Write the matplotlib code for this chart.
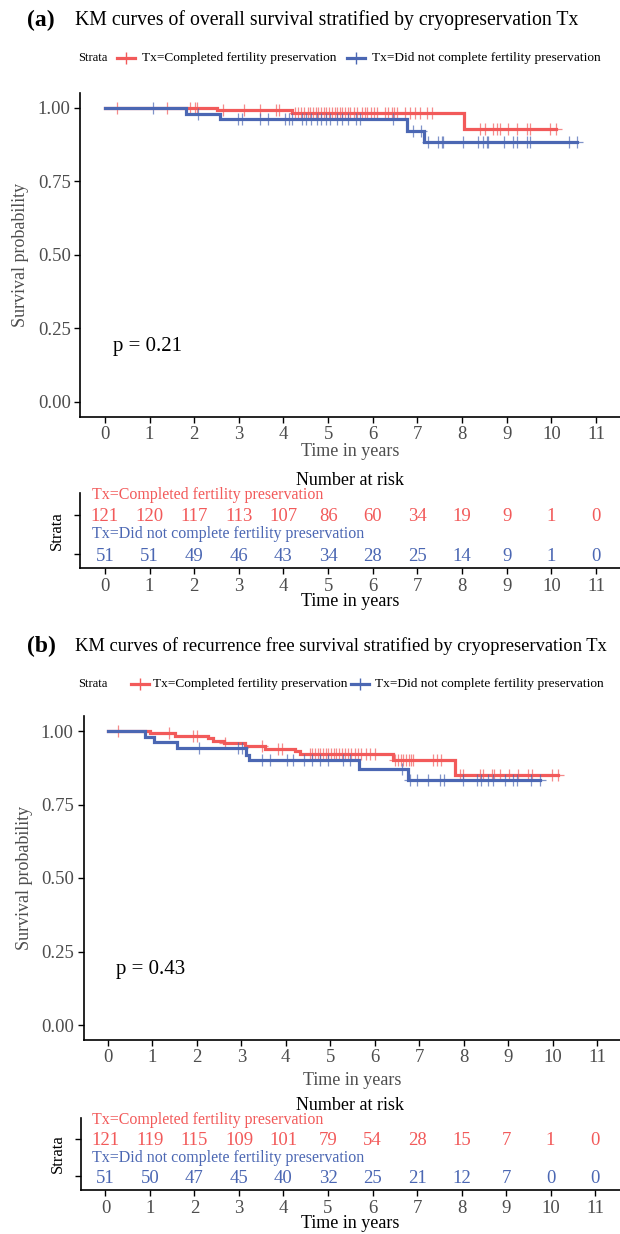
import matplotlib
matplotlib.use("Agg")
import matplotlib.pyplot as plt
import numpy as np
from matplotlib.lines import Line2D

plt.rcParams["font.family"] = ["Liberation Serif", "DejaVu Serif"]

W, H = 620, 1234
RED = "#F25A5A"
BLUE = "#4B67B3"
GREY = "#4D4D4D"

GROUPS = ["Tx=Completed fertility preservation", "Tx=Did not complete fertility preservation"]
TITLES = ["KM curves of overall survival stratified by cryopreservation Tx",
          "KM curves of recurrence free survival stratified by cryopreservation Tx"]
PVALS = ["p = 0.21", "p = 0.43"]
RISK_TIMES = list(range(12))

# (a) overall survival
red_a_t = [0, 2.52, 4.19, 8.04, 10.1]
red_a_s = [1.0, 0.992, 0.983, 0.927, 0.927]
blue_a_t = [0, 1.81, 2.57, 6.77, 7.15, 10.58]
blue_a_s = [1.0, 0.980, 0.961, 0.922, 0.884, 0.884]
red_a_cens = [0.28, 1.40, 1.91, 2.02, 2.07, 2.65, 3.12, 3.48, 3.83, 3.90,
              4.25, 4.32, 4.40, 4.47, 4.55, 4.60, 4.66, 4.72, 4.78, 4.85,
              4.90, 4.96, 5.02, 5.08, 5.15, 5.20, 5.27, 5.32, 5.38, 5.44,
              5.50, 5.58, 5.64, 5.76, 5.82, 5.88, 5.95, 6.02, 6.09, 6.28,
              6.35, 6.42, 6.48, 6.54, 6.73, 6.84, 6.95, 7.06, 7.21, 7.33,
              8.41, 8.52, 8.69, 8.78, 8.84, 9.04, 9.24, 9.46, 9.53, 9.98, 10.1]
blue_a_cens = [1.07, 2.09, 2.97, 3.06, 3.48, 3.66, 4.04, 4.12, 4.20, 4.41,
               4.50, 4.62, 4.75, 4.85, 4.95, 5.05, 5.20, 5.30, 5.45, 5.63,
               5.72, 6.46, 6.90, 7.08, 7.24, 7.47, 7.55, 7.58, 8.03, 8.36,
               8.48, 8.56, 8.59, 8.93, 9.15, 9.23, 9.45, 9.53, 10.4, 10.58]
risk_a_red = [121, 120, 117, 113, 107, 86, 60, 34, 19, 9, 1, 0]
risk_a_blue = [51, 51, 49, 46, 43, 34, 28, 25, 14, 9, 1, 0]

# (b) recurrence free survival
red_b_t = [0, 0.94, 1.51, 2.26, 2.36, 2.60, 3.08, 3.53, 4.21, 4.32, 6.42, 7.81, 10.13]
red_b_s = [1.0, 0.992, 0.983, 0.975, 0.966, 0.958, 0.949, 0.940, 0.931, 0.921, 0.901, 0.851, 0.851]
blue_b_t = [0, 0.84, 1.03, 1.56, 3.10, 3.18, 5.65, 6.75, 9.72]
blue_b_s = [1.0, 0.980, 0.961, 0.941, 0.920, 0.900, 0.870, 0.832, 0.832]
red_b_cens = [0.23, 1.37, 1.92, 2.01, 2.63, 3.46, 3.83, 3.91, 4.54, 4.60,
              4.66, 4.72, 4.78, 4.84, 4.90, 4.96, 5.02, 5.08, 5.14, 5.20,
              5.26, 5.33, 5.40, 5.47, 5.55, 5.62, 5.70, 5.80, 5.90, 6.00,
              6.46, 6.52, 6.58, 6.64, 6.70, 6.76, 6.82, 6.86, 7.31, 7.39,
              7.50, 7.92, 7.98, 8.37, 8.44, 8.63, 8.68, 8.82, 9.03, 9.23,
              9.45, 9.53, 9.98, 10.13]
blue_b_cens = [2.05, 2.93, 3.01, 3.46, 3.64, 4.02, 4.17, 4.40, 4.58, 4.77,
               4.95, 5.29, 5.44, 6.61, 6.79, 6.95, 7.19, 7.47, 7.55, 7.99,
               8.31, 8.39, 8.55, 8.67, 8.92, 9.12, 9.20, 9.52, 9.72]
risk_b_red = [121, 119, 115, 109, 101, 79, 54, 28, 15, 7, 1, 0]
risk_b_blue = [51, 50, 47, 45, 40, 32, 25, 21, 12, 7, 0, 0]


def box(x0, x1, y0, y1):
    return [x0 / W, 1 - y1 / H, (x1 - x0) / W, (y1 - y0) / H]


def ftext(fig, x, y, s, **kw):
    fig.text(x / W, 1 - y / H, s, **kw)


def style_axes(ax):
    for side in ("top", "right"):
        ax.spines[side].set_visible(False)
    for side in ("left", "bottom"):
        ax.spines[side].set_linewidth(1.2)
    ax.tick_params(length=4, width=1, colors="black", labelcolor=GREY,
                   labelsize=13.5, pad=3)
    ax.set_xlim(-0.55, 11.55)
    ax.set_xticks(RISK_TIMES)


def draw_km(ax, t, s, cens, color):
    t = np.asarray(t)
    s = np.asarray(s)
    ax.step(t, s, where="post", color=color, lw=2.3, solid_joinstyle="miter")
    c = np.asarray(cens)
    cy = s[np.searchsorted(t, c, side="right") - 1]
    ax.plot(c, cy, ls="none", marker="+", ms=8, mew=0.9, color=color, alpha=0.7)


def panel(fig, k, ytop, main_px, tab_px, curves, risks, xpad, tsize):
    label = "(a)" if k == 0 else "(b)"
    ftext(fig, 41, ytop, label, fontsize=17, fontweight="bold", ha="center", va="center")
    ftext(fig, 75, ytop, TITLES[k], fontsize=tsize, ha="left", va="center")

    # legend row
    ly = ytop + 38
    leg_x = [(117, 142), (347, 372)] if k == 0 else [(131, 153), (351, 375)]
    ftext(fig, 78, ly, "Strata", fontsize=9, ha="left", va="center")
    for (x0, xt), col, name in zip(leg_x, (RED, BLUE), GROUPS):
        fy = 1 - ly / H
        fig.add_artist(Line2D([x0 / W, (x0 + 18) / W], [fy, fy], color=col, lw=2.3,
                              transform=fig.transFigure))
        fig.add_artist(Line2D([(x0 + 9) / W], [fy], color=col, marker="+", ms=8,
                              mew=1, transform=fig.transFigure))
        ftext(fig, xt, ly, name, fontsize=9.6, ha="left", va="center")

    ax = fig.add_axes(box(*main_px))
    style_axes(ax)
    ax.set_ylim(-0.05, 1.05)
    ax.set_yticks([0, 0.25, 0.5, 0.75, 1.0])
    ax.set_yticklabels(["0.00", "0.25", "0.50", "0.75", "1.00"])
    for (t, s, c), col in zip(curves, (RED, BLUE)):
        draw_km(ax, t, s, c, col)
    ax.text(0.18, 0.19, PVALS[k], fontsize=15, ha="left", va="center")
    ax.set_xlabel("Time in years", fontsize=13, color=GREY, labelpad=xpad)
    ax.set_ylabel("Survival probability", fontsize=13, color=GREY, labelpad=6)

    # number at risk table
    tx = fig.add_axes(box(*tab_px))
    style_axes(tx)
    tx.set_ylim(0.64, 2.55)
    tx.set_yticks([1, 2])
    tx.set_yticklabels([])
    tx.set_ylabel("Strata", fontsize=12, labelpad=4)
    tx.set_xlabel("Time in years", fontsize=13, labelpad=-1)
    tx.set_title("Number at risk", fontsize=13, pad=6)
    for row, nums, col, name in zip((2, 1), risks, (RED, BLUE), GROUPS):
        tx.text(-0.3, row + 0.5, name, fontsize=11.5, color=col, ha="left", va="center")
        for t, n in zip(RISK_TIMES, nums):
            tx.text(t, row - 0.06, str(n), fontsize=13.5, color=col, ha="center", va="center")


fig = plt.figure(figsize=(W / 100, H / 100), dpi=100)
panel(fig, 0, 20, (80.4, 620.5, 93.3, 416.7), (80.4, 620.5, 493, 568),
      [(red_a_t, red_a_s, red_a_cens), (blue_a_t, blue_a_s, blue_a_cens)],
      [risk_a_red, risk_a_blue], 0, 14.2)
panel(fig, 1, 646, (83.5, 621.5, 716.3, 1039.7), (81.0, 619.5, 1118, 1190),
      [(red_b_t, red_b_s, red_b_cens), (blue_b_t, blue_b_s, blue_b_cens)],
      [risk_b_red, risk_b_blue], 4, 13.3)

fig.savefig("out.png", dpi=100)
